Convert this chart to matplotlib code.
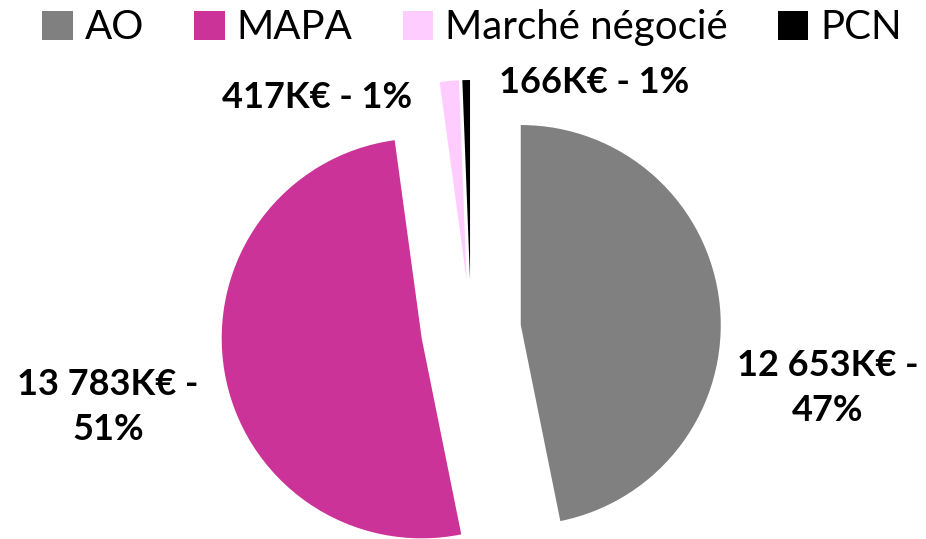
import matplotlib.pyplot as plt
from matplotlib.patches import Patch

# Données
categories = ["AO", "MAPA", "Marché négocié", "PCN"]
montants = [12653, 13783, 417, 166]  # en K€
pourcentages = [47, 51, 1, 1]
couleurs = ["#808080", "#CC3399", "#FFCCFF", "#000000"]

plt.rcParams["font.family"] = ["Lato", "DejaVu Sans"]

fig = plt.figure(figsize=(9.26, 5.39), dpi=100)
ax = fig.add_axes([0, 0, 1, 1])

ax.pie(montants, colors=couleurs, startangle=90, counterclock=False,
       explode=[0.25] * len(montants), radius=1,
       wedgeprops=dict(linewidth=0))
ax.set_aspect("auto")
ax.set_xlim(-2.355, 2.275)
ax.set_ylim(-1.045, 1.65)
ax.axis("off")


def fmt(v):
    return f"{v:,}".replace(",", " ") + "K€"


# Étiquettes
pos_labels = [(1.785, -0.29), (-1.815, -0.385), (-0.77, 1.16), (0.615, 1.235)]
for i, (x, y) in enumerate(pos_labels):
    if montants[i] >= 1000:
        txt = f"{fmt(montants[i])} -\n{pourcentages[i]}%"
    else:
        txt = f"{fmt(montants[i])} - {pourcentages[i]}%"
    ax.text(x, y, txt, ha="center", va="center", fontsize=26,
            fontweight="bold", linespacing=1.42)

handles = [Patch(facecolor=c, edgecolor="none") for c in couleurs]
fig.legend(handles, categories, loc="upper center", bbox_to_anchor=(0.51, 1.05),
           ncol=4, frameon=False, fontsize=29, handlelength=0.75,
           handleheight=0.75, handletextpad=0.3, columnspacing=1.25)

fig.savefig("out.png", dpi=100)
